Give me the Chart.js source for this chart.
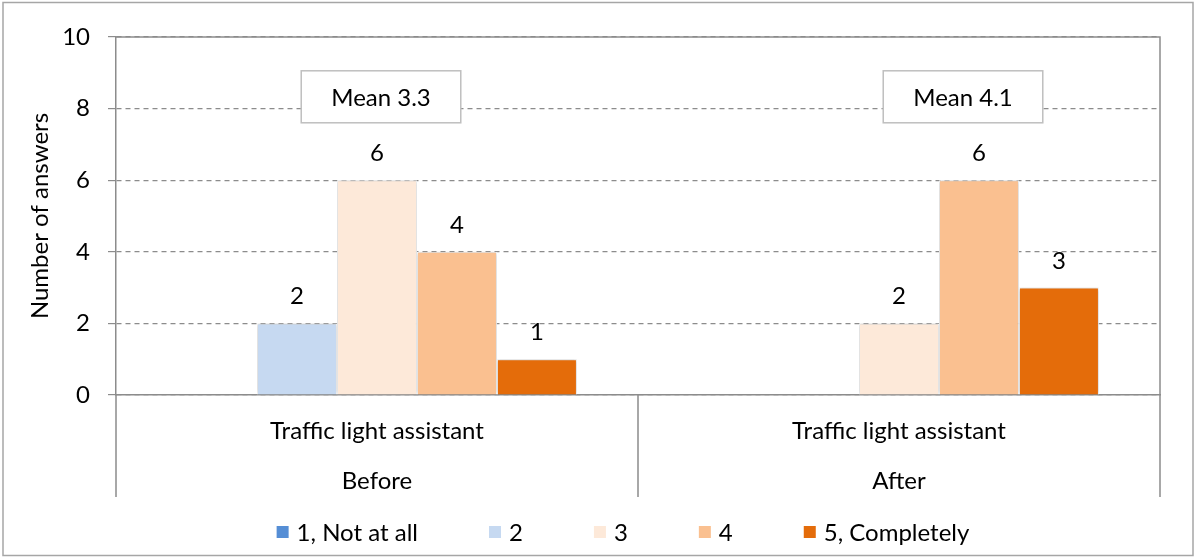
<!DOCTYPE html>
<html lang="en">
<head>
<meta charset="UTF-8">
<title>Traffic light assistant - answers</title>
<script src="https://cdn.jsdelivr.net/npm/chart.js"></script>
<style>
  body { margin: 0; background: #fff; }
  #wrap { width: 1196px; height: 558px; }
</style>
</head>
<body>
<div id="wrap"><canvas id="answersChart" width="1196" height="558"></canvas></div>
<script>
// categories
const groups = ['Before', 'After'];
const groupTitle = 'Traffic light assistant';

// rating scale
const ratings = ['1, Not at all', '2', '3', '4', '5, Completely'];
const scores = [1, 2, 3, 4, 5];
const ratingColors = ['#558ED5', '#C6D9F1', '#FDE9D9', '#FAC090', '#E46C0A'];

// number of answers per rating: [Before, After]
const answers1 = [0, 0];
const answers2 = [2, 0];
const answers3 = [6, 2];
const answers4 = [4, 6];
const answers5 = [1, 3];
const answerSeries = [answers1, answers2, answers3, answers4, answers5];

const yTicks = [0, 2, 4, 6, 8, 10];

const FONT = 'Lato';
const FONT_SIZE = 24;
const LINE = '#8c8c8c';

// mean rating per group, from the answer counts
function groupMean(g) {
    let n = 0, sum = 0;
    answerSeries.forEach((s, i) => { n += s[g]; sum += s[g] * scores[i]; });
    return sum / n;
}

// outer frame, plot border and category separators below the axis
const framePlugin = {
    id: 'frame',
    afterDraw(chart) {
        const {ctx, chartArea, scales} = chart;
        const x = scales.x;
        const sepBottom = chartArea.bottom + 102;
        ctx.save();
        ctx.strokeStyle = LINE;
        ctx.lineWidth = 1.5;
        ctx.beginPath();
        ctx.moveTo(chartArea.left, chartArea.top);
        ctx.lineTo(chartArea.right, chartArea.top);
        ctx.lineTo(chartArea.right, sepBottom);
        ctx.moveTo(chartArea.left, chartArea.bottom);
        ctx.lineTo(chartArea.left, sepBottom);
        for (let i = 1; i < groups.length; i++) {
            const bx = (x.getPixelForValue(i - 1) + x.getPixelForValue(i)) / 2;
            ctx.moveTo(bx, chartArea.bottom);
            ctx.lineTo(bx, sepBottom);
        }
        ctx.stroke();
        ctx.strokeStyle = '#a6a6a6';
        ctx.strokeRect(3, 2.5, chart.width - 6, chart.height - 5);
        ctx.restore();
    }
};

// soft shadow behind the bars
const barShadow = {
    id: 'barShadow',
    beforeDatasetsDraw(chart) {
        const ctx = chart.ctx;
        ctx.save();
        ctx.shadowColor = 'rgba(0,0,0,0.28)';
        ctx.shadowBlur = 4;
        ctx.shadowOffsetX = 0;
        ctx.shadowOffsetY = 0;
    },
    afterDatasetsDraw(chart) {
        chart.ctx.restore();
    }
};

// value labels above each bar (zeros left out)
const valueLabels = {
    id: 'valueLabels',
    afterDatasetsDraw(chart) {
        const ctx = chart.ctx;
        ctx.save();
        ctx.font = `${FONT_SIZE}px ${FONT}`;
        ctx.fillStyle = '#000';
        ctx.textAlign = 'center';
        ctx.textBaseline = 'alphabetic';
        chart.data.datasets.forEach((ds, i) => {
            chart.getDatasetMeta(i).data.forEach((bar, j) => {
                const v = ds.data[j];
                if (!v) return;
                ctx.fillText(String(v), bar.x, bar.y - 19);
            });
        });
        ctx.restore();
    }
};

// "Mean x.x" boxes over each group
const meanShift = [4, 64];
const meanLevel = 8.33;
const meanBoxes = {
    id: 'meanBoxes',
    afterDraw(chart) {
        const {ctx, scales} = chart;
        ctx.save();
        ctx.font = `${FONT_SIZE}px ${FONT}`;
        groups.forEach((g, i) => {
            const text = 'Mean ' + groupMean(i).toFixed(1);
            const w = ctx.measureText(text).width + 60;
            const h = 52;
            const cx = scales.x.getPixelForValue(i) + meanShift[i];
            const cy = scales.y.getPixelForValue(meanLevel);
            ctx.fillStyle = '#fff';
            ctx.fillRect(cx - w / 2, cy - h / 2, w, h);
            ctx.strokeStyle = '#bfbfbf';
            ctx.lineWidth = 1.5;
            ctx.strokeRect(cx - w / 2, cy - h / 2, w, h);
            ctx.fillStyle = '#000';
            ctx.textAlign = 'center';
            ctx.textBaseline = 'middle';
            ctx.fillText(text, cx, cy + 1);
        });
        ctx.restore();
    }
};

// legend row under the category labels
const legendRow = {
    id: 'legendRow',
    afterDraw(chart) {
        const {ctx, chartArea} = chart;
        const items = chart.data.datasets;
        ctx.save();
        ctx.font = `${FONT_SIZE}px ${FONT}`;
        const widths = items.map(d => 20 + ctx.measureText(d.label).width);
        const total = widths.reduce((a, b) => a + b, 0) + 71 * (items.length - 1);
        let x = (chartArea.left + chartArea.right) / 2 - 15 - total / 2;
        const y = chartArea.bottom + 102 + 35;
        ctx.textAlign = 'left';
        ctx.textBaseline = 'middle';
        items.forEach((d, i) => {
            ctx.fillStyle = d.backgroundColor;
            ctx.fillRect(x, y - 6, 12, 12);
            ctx.fillStyle = '#000';
            ctx.fillText(d.label, x + 20, y + 1);
            x += widths[i] + 71;
        });
        ctx.restore();
    }
};

const ctx = document.getElementById('answersChart').getContext('2d');
new Chart(ctx, {
    type: 'bar',
    data: {
        labels: groups.map(g => [groupTitle, g]),
        datasets: ratings.map((r, i) => ({
            label: r,
            data: answerSeries[i],
            backgroundColor: ratingColors[i],
            borderColor: '#ffffff',
            borderWidth: 1,
            barPercentage: 1,
            categoryPercentage: 0.766
        }))
    },
    options: {
        responsive: false,
        animation: false,
        layout: { padding: { top: 37, right: 36, bottom: 61, left: 0 } },
        plugins: {
            legend: { display: false },
            tooltip: { enabled: false }
        },
        scales: {
            x: {
                grid: { display: false },
                border: { display: true, color: LINE, width: 1.5 },
                ticks: {
                    color: '#000',
                    font: { family: FONT, size: FONT_SIZE, lineHeight: 50 / FONT_SIZE },
                    padding: 3,
                    maxRotation: 0,
                    autoSkip: false
                },
                afterFit: s => { s.height = 102; }
            },
            y: {
                min: 0,
                max: 10,
                afterBuildTicks: s => { s.ticks = yTicks.map(v => ({ value: v })); },
                grid: {
                    color: LINE,
                    lineWidth: 1.2,
                    tickLength: 8,
                    tickColor: LINE,
                    tickBorderDash: []
                },
                border: { display: true, color: LINE, width: 1.5, dash: [5, 4] },
                ticks: {
                    color: '#000',
                    font: { family: FONT, size: FONT_SIZE },
                    padding: 18
                },
                title: {
                    display: true,
                    text: 'Number of answers',
                    color: '#000',
                    font: { family: FONT, size: FONT_SIZE },
                    padding: { top: 26, bottom: 0 }
                },
                afterFit: s => { s.width = 116; }
            }
        }
    },
    plugins: [framePlugin, barShadow, valueLabels, meanBoxes, legendRow]
});
</script>
</body>
</html>
